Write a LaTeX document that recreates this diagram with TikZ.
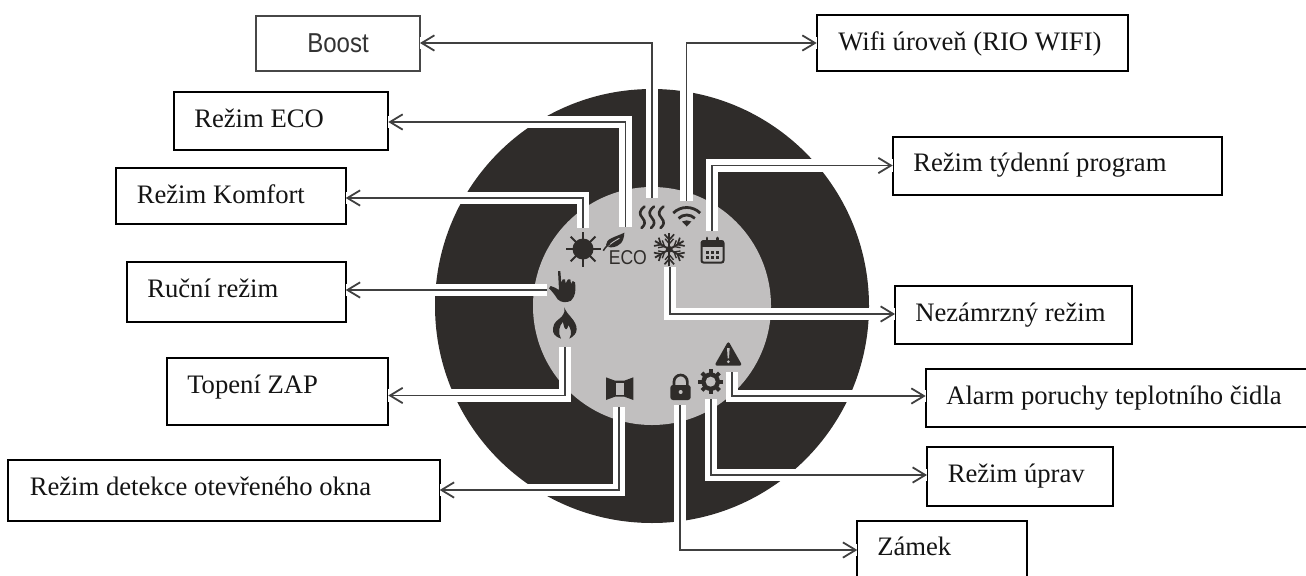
\documentclass[tikz,border=0pt]{standalone}
\usepackage{fontspec}
\setmainfont{Liberation Serif}
\newfontfamily\narrowsans[FakeStretch=0.88]{Liberation Sans}
\usetikzlibrary{arrows.meta,fit}
\definecolor{diskdark}{HTML}{2F2C2A}
\definecolor{diskgrey}{HTML}{C1BFBF}
\definecolor{conncol}{HTML}{404040}
\tikzset{
  boxst/.style={draw=black,line width=1.4pt,inner sep=0pt,outer sep=0pt,fill=white},
  softbox/.style={boxst,draw=black!72,line width=1.3pt},
  lbl/.style={anchor=base west,inner sep=0pt,font=\fontsize{20}{24}\selectfont,text=black!92},
  chan/.style={draw=white,line width=9.6pt,miter limit=10},
  conn/.style={draw=conncol,line width=1.45pt,-{Straight Barb[length=9.5pt,width=11.5pt,line width=1.35pt]}},
  ico/.style={fill=diskdark,draw=none},
  icol/.style={draw=diskdark},
  zoomed/.style={x=.25pt,y=-.25pt}
}
\newcommand{\lbox}[4][boxst]{\node[#1,fit={(#3)(#4)}] (#2) {};}
\begin{document}
\begin{tikzpicture}[x=.75pt,y=-.75pt]
\useasboundingbox (0,0) rectangle (1306,575);
\clip (0,0) rectangle (1306,575);
% disc
\fill[diskdark] (652,306) circle[radius=217];
\fill[diskgrey] (652,306) circle[radius=119];
% connector ends near the icons
\coordinate (aBoost) at (652,198);  \coordinate (bBoost) at (652,43);
\coordinate (aEco)   at (625.5,227); \coordinate (bEco)  at (625.5,122);
\coordinate (aSun)   at (583,228);  \coordinate (bSun)   at (583,198);
\coordinate (aHand)  at (547,290);
\coordinate (aFlame) at (565,347);  \coordinate (bFlame) at (565,395.5);
\coordinate (aWin)   at (619,407);  \coordinate (bWin)   at (619,490);
\coordinate (aWifi)  at (686.5,201);\coordinate (bWifi)  at (686.5,43);
\coordinate (aCal)   at (712,231);  \coordinate (bCal)   at (712,165.5);
\coordinate (aSnow)  at (670,267);  \coordinate (bSnow)  at (670,314);
\coordinate (aTri)   at (732,372);  \coordinate (bTri)   at (732,396);
\coordinate (aGear)  at (711,399);  \coordinate (bGear)  at (711,475);
\coordinate (aLock)  at (680,405);  \coordinate (bLock)  at (680,550);
% boxes
\lbox[softbox]{boost}{256,16}{420,70.7}
\lbox{eco}{173.7,92}{388.3,150.3}
\lbox{komfort}{115.7,168}{345.7,224}
\lbox{rucni}{126.7,262}{345.7,322.3}
\lbox{topeni}{166.7,358}{388.3,425}
\lbox{okno}{7.7,460.3}{439.7,520.7}
\lbox{wifi}{816.7,15.3}{1127.7,71.3}
\lbox{tyden}{892.7,136.7}{1221.7,194.7}
\lbox{nezam}{895,286}{1132.3,344.3}
\lbox{alarm}{925.7,369}{1312,426.7}
\lbox{upravy}{927,447.3}{1113,505.7}
\lbox{zamek}{857.3,520.7}{1027,582}
% white channels
\draw[chan] (aBoost) -- (bBoost) -- (bBoost -| boost.east);
\draw[chan] (aEco) -- (bEco) -- (bEco -| eco.east);
\draw[chan] (aSun) -- (bSun) -- (bSun -| komfort.east);
\draw[chan] (aHand) -- (aHand -| rucni.east);
\draw[chan] (aFlame) -- (bFlame) -- (bFlame -| topeni.east);
\draw[chan] (aWin) -- (bWin) -- (bWin -| okno.east);
\draw[chan] (aWifi) -- (bWifi) -- (bWifi -| wifi.west);
\draw[chan] (aCal) -- (bCal) -- (bCal -| tyden.west);
\draw[chan] (aSnow) -- (bSnow) -- (bSnow -| nezam.west);
\draw[chan] (aTri) -- (bTri) -- (bTri -| alarm.west);
\draw[chan] (aGear) -- (bGear) -- (bGear -| upravy.west);
\draw[chan] (aLock) -- (bLock) -- (bLock -| zamek.west);
% connectors
\draw[conn] (aBoost) -- (bBoost) -- (bBoost -| boost.east);
\draw[conn] (aEco) -- (bEco) -- (bEco -| eco.east);
\draw[conn] (aSun) -- (bSun) -- (bSun -| komfort.east);
\draw[conn] (aHand) -- (aHand -| rucni.east);
\draw[conn] (aFlame) -- (bFlame) -- (bFlame -| topeni.east);
\draw[conn] (aWin) -- (bWin) -- (bWin -| okno.east);
\draw[conn] (aWifi) -- (bWifi) -- (bWifi -| wifi.west);
\draw[conn] (aCal) -- (bCal) -- (bCal -| tyden.west);
\draw[conn] (aSnow) -- (bSnow) -- (bSnow -| nezam.west);
\draw[conn] (aTri) -- (bTri) -- (bTri -| alarm.west);
\draw[conn] (aGear) -- (bGear) -- (bGear -| upravy.west);
\draw[conn] (aLock) -- (bLock) -- (bLock -| zamek.west);
% box labels
\node[anchor=base west,inner sep=0pt,text=black!80,font=\narrowsans\fontsize{20.5}{24}\selectfont] (tBoost) at (307,52) {Boost};
\node[lbl] (tEco) at (194,127.7) {Režim ECO};
\node[lbl] (tKomfort) at (136.5,203) {Režim Komfort};
\node[lbl] (tRucni) at (147,297) {Ruční režim};
\node[lbl] (tTopeni) at (187,393) {Topení ZAP};
\node[lbl] (tOkno) at (29.5,495.7) {Režim detekce otevřeného okna};
\node[lbl] (tWifi) at (838,50) {Wifi úroveň (RIO WIFI)};
\node[lbl] (tTyden) at (913,171.7) {Režim týdenní program};
\node[lbl] (tNezam) at (915,321.7) {Nezámrzný režim};
\node[lbl] (tAlarm) at (946,404) {Alarm poruchy teplotního čidla};
\node[lbl] (tUprav) at (947.5,482.7) {Režim úprav};
\node[lbl] (tZamek) at (877,555.7) {Zámek};
% ---- icons ----
% sun
\fill[diskdark] (583,249) circle[radius=10.5];
\foreach \a in {0,45,...,315}
  \draw[icol,line width=1.5pt] (583,249) -- ++(\a:17.5);
% leaf and ECO
\begin{scope}[shift={(500,130)},zoomed]
  \fill[diskdark] (373,308) .. controls (372,335) and (360,350) .. (335,352)
     .. controls (325,352) and (320,350) .. (318,345)
     .. controls (318,325) and (345,322) .. (373,308) -- cycle;
  \draw[diskgrey,line width=.7pt] (322,350) .. controls (332,340) and (345,332) .. (358,325);
  \draw[icol,line width=1.1pt] (310,362) .. controls (316,352) and (322,346) .. (330,340);
\end{scope}
\node[anchor=base west,inner sep=0pt,text=diskdark,font=\narrowsans\fontsize{15}{16}\selectfont] (tEcoIcon) at (608.5,264.5) {ECO};
% heat waves
\foreach \d in {0,9.5,19}
  \draw[icol,line width=1.95pt,line cap=round,xshift=\d*.75pt]
    (644.5,206.5) .. controls (639,211) and (639,214) .. (642.5,218)
    .. controls (646,222) and (645,225) .. (641.5,228);
% wifi
\draw[icol,line width=2.1pt] ([shift={(225:19)}]686.7,226.5) arc[start angle=225,end angle=315,radius=19];
\draw[icol,line width=2.1pt] ([shift={(225:11.5)}]686.7,226.5) arc[start angle=225,end angle=315,radius=11.5];
\fill[diskdark] (686.7,226.5) -- (682,221.5) .. controls (685,220) and (688.4,220) .. (691.4,221.5) -- cycle;
% snowflake
\begin{scope}[shift={(669.3,249.3)}]
  \foreach \a in {30,90,150,210,270,330}{
    \begin{scope}[rotate=\a]
      \draw[icol,line width=1.4pt] (0,0) -- (16.5,0);
      \draw[icol,line width=1.25pt] (15,-4.8) -- (9.5,0) -- (15,4.8);
      \draw[icol,line width=1pt] (10.5,-4.2) -- (5.5,0) -- (10.5,4.2);
    \end{scope}}
  \fill[diskdark] (0,0) circle[radius=3.4];
\end{scope}
% calendar
\draw[icol,line width=1.5pt,rounded corners=1.5pt] (701.5,241) rectangle (723.5,262.5);
\fill[diskdark] (701.5,241) rectangle (723.5,246.5);
\draw[icol,line width=2.2pt,line cap=round] (707,238) -- (707,243);
\draw[icol,line width=2.2pt,line cap=round] (717.7,238) -- (717.7,243);
\foreach \px in {706,711,716}\foreach \py in {250.5,255.5}
  \fill[diskdark] (\px,\py) rectangle ++(3.4,3.4);
% hand
\begin{scope}[shift={(535,270)},zoomed]
  \fill[diskdark] (69,3) -- (76,3) -- (79,38) -- (83,28) -- (90,28) -- (92,40) -- (99,28) -- (106,28) -- (108,42)
     -- (113,33) -- (120,37) .. controls (123,60) and (122,78) .. (108,92)
     .. controls (95,99) and (78,98) .. (68,88)
     .. controls (60,75) and (52,65) .. (42,55) -- (47,48) .. controls (55,50) and (65,55) .. (72,60) -- cycle;
  % flame
  \fill[diskdark] (88,112) .. controls (95,135) and (125,150) .. (125,178)
     .. controls (125,190) and (115,200) .. (103,206)
     .. controls (112,190) and (108,178) .. (100,165)
     .. controls (98,178) and (92,182) .. (88,172)
     .. controls (85,162) and (84,158) .. (84,155)
     .. controls (72,168) and (68,188) .. (78,206)
     .. controls (60,200) and (52,190) .. (54,175)
     .. controls (56,155) and (70,150) .. (80,140)
     .. controls (88,130) and (90,122) .. (88,112) -- cycle;
  % window
  \fill[diskdark] (213,322) -- (240,332) -- (268,332) -- (295,322) -- (295,390) -- (268,380) -- (240,380) -- (213,390) -- cycle;
  \fill[diskgrey] (243,338) rectangle (267,375);
\end{scope}
% lock, gear, warning triangle
\begin{scope}[shift={(660,330)},zoomed]
  \draw[icol,line width=2pt] (42,170) -- (42,155) arc[start angle=180,end angle=360,radius=20] -- (82,170);
  \fill[diskdark,rounded corners=2pt] (31,165) rectangle (92,210);
  \fill[diskgrey] (62,186) circle[radius=6];
  \foreach \a in {0,45,...,315}
    \draw[icol,line width=3pt] (152,155) -- ++(\a:37);
  \fill[diskdark] (152,155) circle[radius=28];
  \fill[diskgrey] (152,155) circle[radius=15];
  \fill[diskdark,rounded corners=2pt] (205,33) -- (247,107) -- (163,107) -- cycle;
  \fill[diskgrey] (201,54) -- (209,54) -- (207,85) -- (203,85) -- cycle;
  \fill[diskgrey] (205,95) circle[radius=4.5];
\end{scope}
\end{tikzpicture}
\end{document}
